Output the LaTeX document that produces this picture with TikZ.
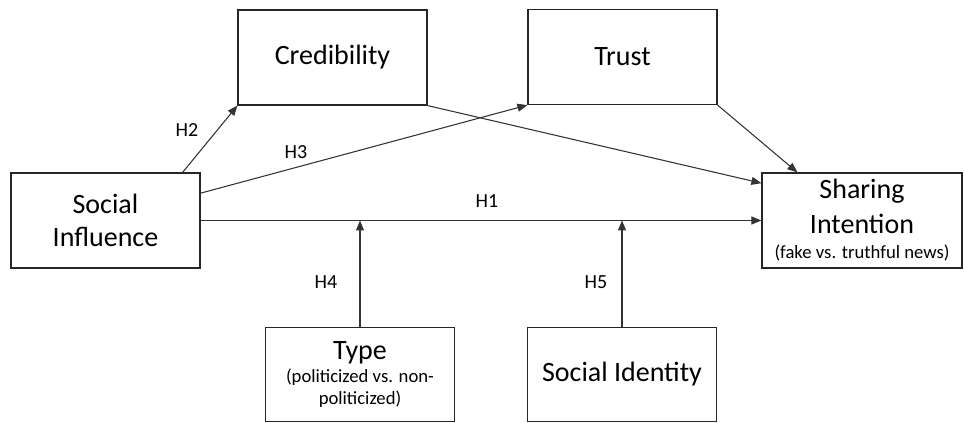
\documentclass[tikz,border=0pt]{standalone}
\usepackage{fontspec}
\setmainfont{Carlito}
\usetikzlibrary{arrows.meta}
\newcommand{\subtxt}[1]{{\fontsize{14}{17}\selectfont #1}}

\begin{document}
\begin{tikzpicture}[x=0.75pt,y=-0.75pt,
  box/.style={draw=black!85,line width=0.9pt,inner sep=0pt,minimum width=141.75pt,minimum height=71.25pt,align=center,font=\fontsize{21}{25}\selectfont},
  arr/.style={draw=black!80,line width=0.8pt,-{Triangle[length=7.5pt,width=6pt]}},
  hyp/.style={font=\fontsize{15}{18}\selectfont,inner sep=0pt}]

\useasboundingbox (0,0) rectangle (964,423);

\node[box] (inf) at (105.5,220.5) {Social\\Influence};
\node[box] (cred) at (332.5,57.5) {Credibility};
\node[box] (trust) at (622.5,57) {Trust};
\node[box,minimum width=150pt] (share) at (862,220.5) {Sharing\\[1pt]Intention\\[-6pt]\subtxt{(fake vs. truthful news)}};
\node[box,minimum height=70.5pt] (type) at (360,374.5) {Type\\[-8pt]\subtxt{(politicized vs. non-}\\[-8.5pt]\subtxt{politicized)}};
\node[box,minimum height=70.5pt] (ident) at (622,374.5) {Social Identity};

\coordinate (m4) at (type.north |- inf.east);
\coordinate (m5) at (ident.north |- inf.east);

\draw[arr] ([xshift=-13.5pt]inf.north east) -- (cred.south west);
\draw[arr] ([yshift=20.5pt]inf.east) -- (trust.south west);
\draw[arr] (cred.south east) -- ([yshift=28pt]share.west);
\draw[arr] (trust.south east) -- ([xshift=27pt]share.north west);
\draw[arr] (inf.east) -- (share.west);
\draw[arr] (type.north) -- (m4);
\draw[arr] (ident.north) -- (m5);

\node[hyp] at (187,130) {H2};
\node[hyp] at (296,152) {H3};
\node[hyp] at (487,201) {H1};
\node[hyp] at (326,282) {H4};
\node[hyp] at (596,282) {H5};

\end{tikzpicture}
\end{document}
